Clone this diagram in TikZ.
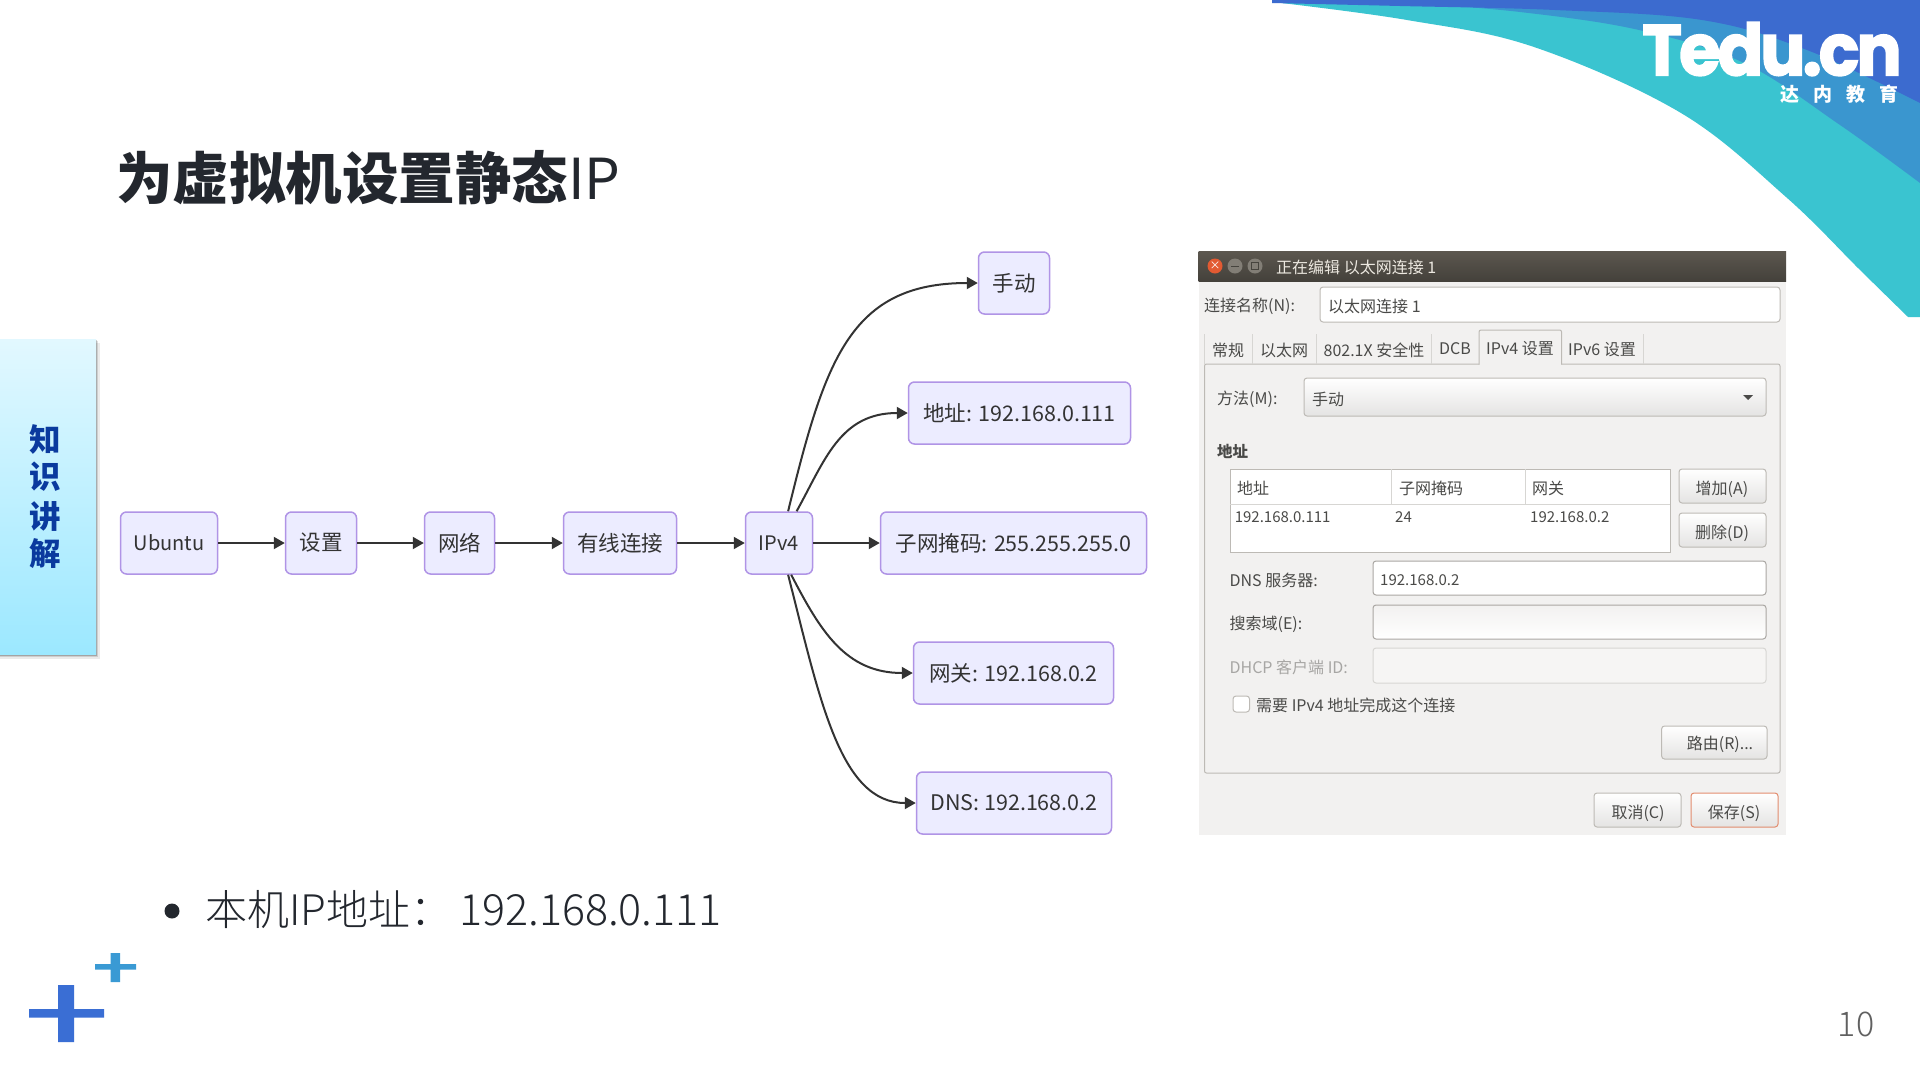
\documentclass[tikz,border=0pt]{standalone}
\usepackage{fontspec}
\usepackage{graphicx}
\setmainfont{Noto Sans CJK SC}
\newfontfamily\lightf{Noto Sans CJK SC Light}
\newfontfamily\logofont[BoldFeatures={FakeBold=2.5,LetterSpace=-4}]{Poppins}
\usetikzlibrary{arrows.meta}
\definecolor{ink}{HTML}{333333}
\definecolor{dark}{HTML}{23272E}
\definecolor{nfill}{HTML}{ECECFF}
\definecolor{nline}{HTML}{B094E6}
\definecolor{dbg}{HTML}{F2F1F0}
\definecolor{dline}{HTML}{BDBAB5}
\definecolor{dtxt}{HTML}{4A4A48}
\definecolor{swteal}{RGB}{58,196,208}
\definecolor{swmid}{RGB}{58,150,207}
\definecolor{swblue}{RGB}{60,107,207}
\definecolor{sidetop}{RGB}{226,248,255}
\definecolor{sidebot}{RGB}{156,232,255}
\definecolor{sidetxt}{RGB}{10,58,158}
\definecolor{bartop}{RGB}{92,87,79}
\definecolor{barbot}{RGB}{68,65,59}
\definecolor{wclose}{RGB}{226,90,50}
\definecolor{wgray}{RGB}{130,126,118}
\definecolor{wglyph}{RGB}{70,68,62}
\definecolor{wtitle}{RGB}{236,232,224}
\definecolor{saveline}{RGB}{226,140,110}
\definecolor{plusa}{RGB}{58,110,212}
\definecolor{plusb}{RGB}{58,154,212}
\definecolor{pagegray}{RGB}{96,96,96}
\tikzset{
  flow/.style={draw=nline,fill=nfill,line width=1.5pt,rounded corners=6pt,inner sep=0pt,text=ink,
    font=\fontsize{21.5}{26}\selectfont,minimum height=62pt},
  link/.style={draw=ink,line width=2pt,-{Triangle[length=11pt,width=12pt]}},
  lbl/.style={anchor=west,inner sep=0pt,text=dtxt,font=\fontsize{16}{18}\selectfont},
  clbl/.style={anchor=center,inner sep=0pt,text=dtxt,font=\fontsize{16}{18}\selectfont},
  num/.style={font=\fontsize{15}{18}\selectfont},
  fieldbox/.style={draw=dline,line width=1pt,rounded corners=3pt,fill=white},
  btnbox/.style={draw=dline,line width=1pt,rounded corners=3pt,top color=white,bottom color=dbg!88!gray},
  sidech/.style={inner sep=0pt,text=sidetxt,font=\fontsize{31.5}{38}\selectfont\bfseries},
}
\newcommand{\lb}[4]{\node[lbl] (#1) at (#2,#3) {#4};}
\newcommand{\nb}[4]{\node[lbl,num] (#1) at (#2,#3) {#4};}
\newcommand{\cl}[4]{\node[clbl] (#1) at (#2,#3) {#4};}
\begin{document}
\begin{tikzpicture}[x=1pt,y=-1pt]
\useasboundingbox (0,0) rectangle (1920,1080);
\fill[white] (0,0) rectangle (1920,1080);
% swoosh
\fill[swteal]
  (1272,0) -- plot[smooth,tension=0.6] coordinates {(1273,2) (1407,20) (1534,47) (1681,113) (1786,197) (1860,270) (1908,317)}
  -- (1920,317) -- (1920,0) -- cycle;
\fill[swmid]
  (1400,0) -- plot[smooth,tension=0.6] coordinates {(1400,2) (1520,12) (1639,30) (1744,63) (1840,125) (1920,183)}
  -- (1920,0) -- cycle;
\fill[swblue]
  (1272,0) -- plot[smooth,tension=0.6] coordinates {(1272,3) (1400,6) (1555,10) (1702,20) (1807,50) (1920,103)}
  -- (1920,0) -- cycle;
\node[inner sep=0pt,text=white] (logo) at (1772,49) {\resizebox{259pt}{53pt}{\logofont\bfseries Tedu.cn}};
\node[inner sep=0pt,text=white,font=\fontsize{19}{20}\selectfont\bfseries] (logocn) at (1839,94) {达\hspace{14pt}内\hspace{14pt}教\hspace{14pt}育};
% title
\node[anchor=west,inner sep=0pt,text=dark,font=\fontsize{56.5}{66}\selectfont] (title) at (116,178) {\textbf{为虚拟机设置静态}IP};
% sidebar
\fill[black,opacity=0.08] (0,343) rectangle (100,659);
\fill[black,opacity=0.12] (0,341) rectangle (98,657);
\fill[black,opacity=0.2] (0,340) rectangle (97,656);
\shade[top color=sidetop,bottom color=sidebot] (0,339) rectangle (96,654);
\node[sidech] (s1) at (45,439) {知};
\node[sidech] (s2) at (45,477) {识};
\node[sidech] (s3) at (45,516) {讲};
\node[sidech] (s4) at (45,554) {解};
% flow nodes
\node[flow,minimum width=97pt] (ubuntu) at (169,543) {\fontsize{20}{26}\selectfont Ubuntu};
\node[flow,minimum width=71pt] (shezhi) at (321,543) {设置};
\node[flow,minimum width=70pt] (wangluo) at (459.5,543) {网络};
\node[flow,minimum width=113pt] (youxian) at (620,543) {有线连接};
\node[flow,minimum width=67pt] (ipv4) at (779,543) {\fontsize{20}{26}\selectfont IPv4};
\node[flow,minimum width=71pt] (shoudong) at (1014,283) {手动};
\node[flow,minimum width=222pt] (dizhi) at (1019.5,413) {地址: 192.168.0.111};
\node[flow,minimum width=266pt] (ziwang) at (1013.5,543) {子网掩码: 255.255.255.0};
\node[flow,minimum width=200pt] (wangguan) at (1013.5,673) {网关: 192.168.0.2};
\node[flow,minimum width=195pt] (dns) at (1014,803) {DNS: 192.168.0.2};
\draw[link] (ubuntu) -- (shezhi);
\draw[link] (shezhi) -- (wangluo);
\draw[link] (wangluo) -- (youxian);
\draw[link] (youxian) -- (ipv4);
\draw[link] (ipv4) -- (ziwang);
\draw[link] (ipv4.74) .. controls (825,360) and (850,283) .. (shoudong.west);
\draw[link] (ipv4.61) .. controls (825,460) and (840,413) .. (dizhi.west);
\draw[link] (ipv4.-69) .. controls (820,630) and (845,673) .. (wangguan.west);
\draw[link] (ipv4.-74) .. controls (820,700) and (840,803) .. (dns.west);
% dialog
\fill[dbg] (1198.5,281) rectangle (1786,835);
\shade[top color=bartop,bottom color=barbot] (1198.5,251) rectangle (1786,281);
\fill[wclose] (1215,266) circle (7.5pt);
\fill[wgray] (1235,266) circle (7.5pt);
\fill[wgray] (1255,266) circle (7.5pt);
\node[inner sep=0pt,text=white,font=\fontsize{11}{12}\selectfont] (closex) at (1215,265.5) {×};
\draw[wglyph,line width=1pt] (1231,266) -- (1239,266);
\draw[wglyph,line width=1pt] (1251.5,262.5) rectangle (1258.5,269.5);
\node[lbl,text=wtitle] (dtitle) at (1276,267) {正在编辑 以太网连接 1};
\lb{nm}{1204}{306}{连接名称(N):}
\draw[fieldbox] (1320,287) rectangle (1780,322);
\lb{nmv}{1328}{306}{以太网连接 1}
% panel and tabs
\draw[dline,line width=1pt,rounded corners=2pt] (1204.5,364) rectangle (1780,773);
\draw[dline!60,line width=1pt] (1204.5,334) -- (1204.5,364) (1252,334) -- (1252,364) (1316,334) -- (1316,364) (1431,334) -- (1431,364) (1643,334) -- (1643,364);
\draw[dline,line width=1pt,fill=dbg,rounded corners=2pt] (1479,364.5) -- (1479,330) -- (1561.6,330) -- (1561.6,364.5);
\fill[dbg] (1479.5,362) rectangle (1561,366);
\cl{t1}{1228}{350}{常规}
\cl{t2}{1284}{350}{以太网}
\cl{t3}{1374}{350}{802.1X 安全性}
\cl{t4}{1455}{349}{DCB}
\cl{t5}{1520}{349}{IPv4 设置}
\cl{t6}{1602}{350}{IPv6 设置}
\lb{ff}{1217}{399}{方法(M):}
\draw[btnbox] (1304,378) rectangle (1766,416);
\lb{ffv}{1312}{399}{手动}
\fill[dtxt] (1743,395) -- (1753,395) -- (1748,400) -- cycle;
\node[lbl,font=\fontsize{15.5}{18}\selectfont\bfseries] (addr) at (1217,451) {地址};
% table
\draw[dline,fill=white,line width=1pt] (1230,469) rectangle (1670,552);
\draw[dline!60,line width=1pt] (1230,504) -- (1670,504) (1391,469) -- (1391,504) (1525,469) -- (1525,504);
\lb{h1}{1237}{488}{地址}
\lb{h2}{1399}{488}{子网掩码}
\lb{h3}{1532}{488}{网关}
\nb{r1}{1234.6}{517}{192.168.0.111}
\nb{r2}{1395}{517}{24}
\nb{r3}{1530}{517}{192.168.0.2}
\draw[btnbox] (1679,469) rectangle (1766,503);
\cl{add}{1722}{489}{增加(A)}
\draw[btnbox] (1679,513) rectangle (1766,547);
\cl{del}{1722}{533}{删除(D)}
\lb{dnsl}{1229.4}{580}{DNS 服务器:}
\draw[fieldbox,draw=dline!90!black] (1373,561) rectangle (1766,595);
\nb{dnsv}{1380}{580}{192.168.0.2}
\lb{srch}{1229.4}{624}{搜索域(E):}
\draw[draw=dline!90!black,line width=1pt,rounded corners=3pt,top color=dbg,bottom color=white] (1373,605) rectangle (1766,639);
\node[lbl,text=dtxt!45!dbg] (dhcp) at (1229.4,667) {DHCP 客户端 ID:};
\draw[dline!60,line width=1pt,rounded corners=3pt,fill=dbg!70!white] (1373,648) rectangle (1766,683);
\draw[dline,line width=1pt,rounded corners=3pt,fill=white] (1233,696) rectangle (1249.5,712);
\lb{need}{1256}{705}{需要 IPv4 地址完成这个连接}
\draw[btnbox] (1661.6,726) rectangle (1767,759);
\cl{route}{1720}{744.5}{路由(R)...}
\draw[btnbox] (1594,793) rectangle (1681,827);
\cl{cancel}{1638}{813}{取消(C)}
\draw[btnbox,draw=saveline] (1691,793) rectangle (1778,827);
\cl{save}{1734}{813}{保存(S)}
% bullet
\fill[dark] (172,911) circle (7.5pt);
\node[anchor=west,inner sep=0pt,text=dark,font=\lightf\fontsize{42}{50}\selectfont] (bul) at (205,910) {本机IP地址：\hspace{7pt}{\fontsize{43}{50}\selectfont 192.168.0.111}};
% plus marks
\fill[plusa] (29,1009) rectangle (104,1017.5) (58,985) rectangle (74,1042);
\fill[plusb] (95,964) rectangle (136,969.5) (110.5,953) rectangle (120,982);
\node[inner sep=0pt,text=pagegray,font=\lightf\fontsize{34}{40}\selectfont] (pg) at (1856,1024) {10};
\end{tikzpicture}
\end{document}
